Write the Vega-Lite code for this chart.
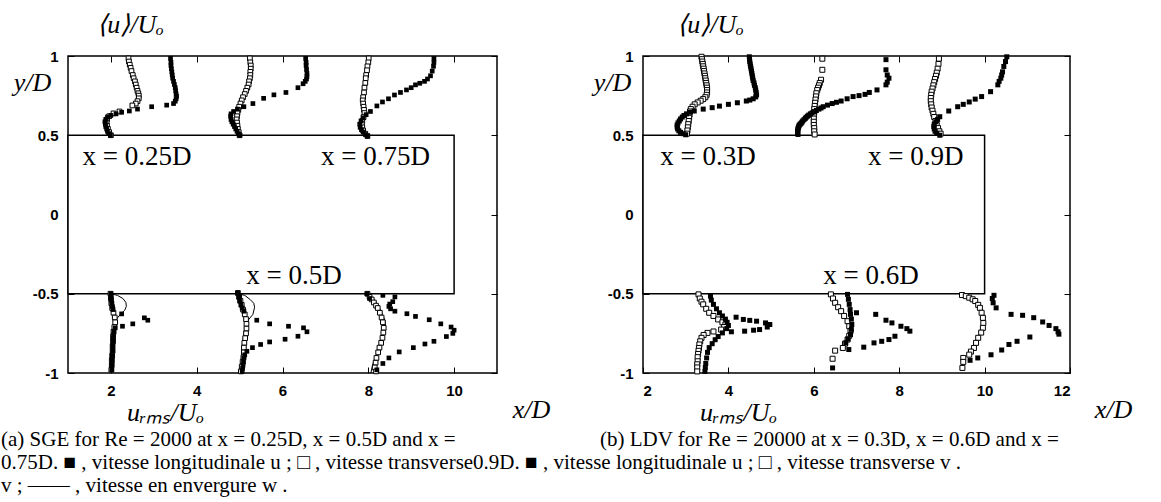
{
"$schema": "https://vega.github.io/schema/vega-lite/v6.json",
"background": "white",
"padding": {"left": 0, "top": 10, "right": 0, "bottom": 0},
"bounds": "flush",
"spacing": 146,
"config": {
  "view": {"stroke": "black", "strokeWidth": 1.5},
  "axis": {"domain": false, "grid": false, "tickColor": "black", "tickWidth": 1, "tickSize": -6, "labelPadding": 16, "labelFont": "Liberation Sans", "labelFontWeight": "bold", "labelFontSize": 15, "labelColor": "black", "titleFont": "Liberation Serif", "titleFontStyle": "italic", "titleFontWeight": "normal", "titleFontSize": 26, "titleColor": "black", "titleAngle": 0, "titleAlign": "center", "titleBaseline": "middle"},
  "text": {"font": "Liberation Serif", "fontSize": 27, "color": "black"}
},
"datasets": {
"body": [{"p": "a", "x": 1, "x2": 10, "y": -0.5, "y2": 0.5}, {"p": "b", "x": 2, "x2": 10, "y": -0.5, "y2": 0.5}],
"labels": [
 {"p": "a", "t": "x = 0.25D", "x": 2.61, "y": 0.315},
 {"p": "a", "t": "x = 0.75D", "x": 8.17, "y": 0.315},
 {"p": "a", "t": "x = 0.5D", "x": 6.27, "y": -0.44},
 {"p": "b", "t": "x = 0.3D", "x": 3.52, "y": 0.315},
 {"p": "b", "t": "x = 0.9D", "x": 8.39, "y": 0.315},
 {"p": "b", "t": "x = 0.6D", "x": 7.34, "y": -0.44}
],
"pts": [
{"p":"a","s":"u","k":1,"x":3.39,"y":0.985},{"p":"a","s":"u","k":1,"x":3.40,"y":0.96},{"p":"a","s":"u","k":1,"x":3.40,"y":0.94},{"p":"a","s":"u","k":1,"x":3.41,"y":0.92},{"p":"a","s":"u","k":1,"x":3.42,"y":0.90},{"p":"a","s":"u","k":1,"x":3.43,"y":0.88},{"p":"a","s":"u","k":1,"x":3.44,"y":0.86},{"p":"a","s":"u","k":1,"x":3.46,"y":0.84},{"p":"a","s":"u","k":1,"x":3.48,"y":0.82},{"p":"a","s":"u","k":1,"x":3.50,"y":0.80},{"p":"a","s":"u","k":1,"x":3.51,"y":0.78},{"p":"a","s":"u","k":1,"x":3.52,"y":0.76},{"p":"a","s":"u","k":1,"x":3.53,"y":0.745},{"p":"a","s":"u","k":1,"x":3.52,"y":0.73},{"p":"a","s":"u","k":1,"x":3.50,"y":0.715},{"p":"a","s":"u","k":1,"x":3.46,"y":0.70},{"p":"a","s":"u","k":1,"x":3.30,"y":0.69},{"p":"a","s":"u","k":1,"x":2.95,"y":0.68},{"p":"a","s":"u","k":1,"x":2.62,"y":0.665},{"p":"a","s":"u","k":1,"x":2.43,"y":0.653},{"p":"a","s":"u","k":1,"x":2.25,"y":0.645},{"p":"a","s":"u","k":1,"x":2.12,"y":0.635},{"p":"a","s":"u","k":1,"x":2.0,"y":0.625},{"p":"a","s":"u","k":1,"x":1.92,"y":0.615},{"p":"a","s":"u","k":1,"x":1.88,"y":0.60},{"p":"a","s":"u","k":1,"x":1.86,"y":0.585},{"p":"a","s":"u","k":1,"x":1.87,"y":0.57},{"p":"a","s":"u","k":1,"x":1.88,"y":0.555},{"p":"a","s":"u","k":1,"x":1.90,"y":0.54},{"p":"a","s":"u","k":1,"x":1.92,"y":0.525},{"p":"a","s":"u","k":1,"x":1.95,"y":0.51},{"p":"a","s":"u","k":1,"x":1.99,"y":0.50},
{"p":"a","s":"u","k":2,"x":6.54,"y":0.985},{"p":"a","s":"u","k":2,"x":6.55,"y":0.96},{"p":"a","s":"u","k":2,"x":6.55,"y":0.94},{"p":"a","s":"u","k":2,"x":6.56,"y":0.915},{"p":"a","s":"u","k":2,"x":6.57,"y":0.89},{"p":"a","s":"u","k":2,"x":6.57,"y":0.87},{"p":"a","s":"u","k":2,"x":6.56,"y":0.855},{"p":"a","s":"u","k":2,"x":6.53,"y":0.84},{"p":"a","s":"u","k":2,"x":6.48,"y":0.825},{"p":"a","s":"u","k":2,"x":6.36,"y":0.80},{"p":"a","s":"u","k":2,"x":6.08,"y":0.77},{"p":"a","s":"u","k":2,"x":5.80,"y":0.755},{"p":"a","s":"u","k":2,"x":5.56,"y":0.733},{"p":"a","s":"u","k":2,"x":5.31,"y":0.70},{"p":"a","s":"u","k":2,"x":5.10,"y":0.68},{"p":"a","s":"u","k":2,"x":4.95,"y":0.665},{"p":"a","s":"u","k":2,"x":4.86,"y":0.65},{"p":"a","s":"u","k":2,"x":4.80,"y":0.635},{"p":"a","s":"u","k":2,"x":4.79,"y":0.62},{"p":"a","s":"u","k":2,"x":4.80,"y":0.60},{"p":"a","s":"u","k":2,"x":4.82,"y":0.585},{"p":"a","s":"u","k":2,"x":4.85,"y":0.57},{"p":"a","s":"u","k":2,"x":4.88,"y":0.555},{"p":"a","s":"u","k":2,"x":4.91,"y":0.54},{"p":"a","s":"u","k":2,"x":4.94,"y":0.525},{"p":"a","s":"u","k":2,"x":4.97,"y":0.51},{"p":"a","s":"u","k":2,"x":5.0,"y":0.50},
{"p":"a","s":"u","k":3,"x":9.53,"y":0.985},{"p":"a","s":"u","k":3,"x":9.53,"y":0.96},{"p":"a","s":"u","k":3,"x":9.52,"y":0.935},{"p":"a","s":"u","k":3,"x":9.49,"y":0.905},{"p":"a","s":"u","k":3,"x":9.45,"y":0.875},{"p":"a","s":"u","k":3,"x":9.38,"y":0.855},{"p":"a","s":"u","k":3,"x":9.31,"y":0.84},{"p":"a","s":"u","k":3,"x":9.20,"y":0.828},{"p":"a","s":"u","k":3,"x":9.10,"y":0.818},{"p":"a","s":"u","k":3,"x":9.0,"y":0.80},{"p":"a","s":"u","k":3,"x":8.89,"y":0.786},{"p":"a","s":"u","k":3,"x":8.75,"y":0.77},{"p":"a","s":"u","k":3,"x":8.61,"y":0.754},{"p":"a","s":"u","k":3,"x":8.47,"y":0.73},{"p":"a","s":"u","k":3,"x":8.33,"y":0.71},{"p":"a","s":"u","k":3,"x":8.20,"y":0.685},{"p":"a","s":"u","k":3,"x":8.05,"y":0.65},{"p":"a","s":"u","k":3,"x":7.95,"y":0.63},{"p":"a","s":"u","k":3,"x":7.88,"y":0.61},{"p":"a","s":"u","k":3,"x":7.83,"y":0.59},{"p":"a","s":"u","k":3,"x":7.80,"y":0.57},{"p":"a","s":"u","k":3,"x":7.81,"y":0.55},{"p":"a","s":"u","k":3,"x":7.84,"y":0.535},{"p":"a","s":"u","k":3,"x":7.88,"y":0.52},{"p":"a","s":"u","k":3,"x":7.93,"y":0.505},{"p":"a","s":"u","k":3,"x":7.98,"y":0.495},
{"p":"a","s":"u","k":4,"x":2.0,"y":-0.50},{"p":"a","s":"u","k":4,"x":2.0,"y":-0.52},{"p":"a","s":"u","k":4,"x":2.01,"y":-0.54},{"p":"a","s":"u","k":4,"x":2.02,"y":-0.56},{"p":"a","s":"u","k":4,"x":2.03,"y":-0.58},{"p":"a","s":"u","k":4,"x":2.05,"y":-0.60},{"p":"a","s":"u","k":4,"x":2.25,"y":-0.627},{"p":"a","s":"u","k":4,"x":2.78,"y":-0.652},{"p":"a","s":"u","k":4,"x":2.86,"y":-0.667},{"p":"a","s":"u","k":4,"x":2.51,"y":-0.69},{"p":"a","s":"u","k":4,"x":2.27,"y":-0.705},{"p":"a","s":"u","k":4,"x":2.10,"y":-0.715},{"p":"a","s":"u","k":4,"x":2.07,"y":-0.74},{"p":"a","s":"u","k":4,"x":2.06,"y":-0.76},{"p":"a","s":"u","k":4,"x":2.05,"y":-0.78},{"p":"a","s":"u","k":4,"x":2.05,"y":-0.80},{"p":"a","s":"u","k":4,"x":2.04,"y":-0.83},{"p":"a","s":"u","k":4,"x":2.04,"y":-0.86},{"p":"a","s":"u","k":4,"x":2.03,"y":-0.89},{"p":"a","s":"u","k":4,"x":2.03,"y":-0.92},{"p":"a","s":"u","k":4,"x":2.02,"y":-0.95},{"p":"a","s":"u","k":4,"x":2.02,"y":-0.98},
{"p":"a","s":"u","k":5,"x":4.96,"y":-0.495},{"p":"a","s":"u","k":5,"x":4.98,"y":-0.52},{"p":"a","s":"u","k":5,"x":5.0,"y":-0.545},{"p":"a","s":"u","k":5,"x":5.03,"y":-0.57},{"p":"a","s":"u","k":5,"x":5.06,"y":-0.59},{"p":"a","s":"u","k":5,"x":5.10,"y":-0.61},{"p":"a","s":"u","k":5,"x":5.40,"y":-0.667},{"p":"a","s":"u","k":5,"x":5.70,"y":-0.69},{"p":"a","s":"u","k":5,"x":6.14,"y":-0.705},{"p":"a","s":"u","k":5,"x":6.49,"y":-0.715},{"p":"a","s":"u","k":5,"x":6.57,"y":-0.74},{"p":"a","s":"u","k":5,"x":6.36,"y":-0.768},{"p":"a","s":"u","k":5,"x":6.06,"y":-0.787},{"p":"a","s":"u","k":5,"x":5.70,"y":-0.804},{"p":"a","s":"u","k":5,"x":5.49,"y":-0.82},{"p":"a","s":"u","k":5,"x":5.30,"y":-0.84},{"p":"a","s":"u","k":5,"x":5.17,"y":-0.863},{"p":"a","s":"u","k":5,"x":5.12,"y":-0.885},{"p":"a","s":"u","k":5,"x":5.10,"y":-0.905},{"p":"a","s":"u","k":5,"x":5.09,"y":-0.93},{"p":"a","s":"u","k":5,"x":5.08,"y":-0.95},{"p":"a","s":"u","k":5,"x":5.07,"y":-0.97},{"p":"a","s":"u","k":5,"x":5.06,"y":-0.99},
{"p":"a","s":"u","k":6,"x":7.97,"y":-0.50},{"p":"a","s":"u","k":6,"x":8.03,"y":-0.53},{"p":"a","s":"u","k":6,"x":8.34,"y":-0.51},{"p":"a","s":"u","k":6,"x":8.62,"y":-0.52},{"p":"a","s":"u","k":6,"x":8.57,"y":-0.55},{"p":"a","s":"u","k":6,"x":8.50,"y":-0.565},{"p":"a","s":"u","k":6,"x":8.48,"y":-0.58},{"p":"a","s":"u","k":6,"x":8.52,"y":-0.595},{"p":"a","s":"u","k":6,"x":8.62,"y":-0.61},{"p":"a","s":"u","k":6,"x":8.90,"y":-0.626},{"p":"a","s":"u","k":6,"x":9.10,"y":-0.643},{"p":"a","s":"u","k":6,"x":9.42,"y":-0.664},{"p":"a","s":"u","k":6,"x":9.69,"y":-0.69},{"p":"a","s":"u","k":6,"x":9.93,"y":-0.71},{"p":"a","s":"u","k":6,"x":10.0,"y":-0.73},{"p":"a","s":"u","k":6,"x":9.97,"y":-0.75},{"p":"a","s":"u","k":6,"x":9.82,"y":-0.77},{"p":"a","s":"u","k":6,"x":9.53,"y":-0.80},{"p":"a","s":"u","k":6,"x":9.32,"y":-0.817},{"p":"a","s":"u","k":6,"x":9.05,"y":-0.84},{"p":"a","s":"u","k":6,"x":8.72,"y":-0.867},{"p":"a","s":"u","k":6,"x":8.48,"y":-0.905},{"p":"a","s":"u","k":6,"x":8.34,"y":-0.94},{"p":"a","s":"u","k":6,"x":8.20,"y":-0.98},
{"p":"a","s":"v","k":1,"x":2.41,"y":0.985},{"p":"a","s":"v","k":1,"x":2.42,"y":0.965},{"p":"a","s":"v","k":1,"x":2.44,"y":0.945},{"p":"a","s":"v","k":1,"x":2.46,"y":0.925},{"p":"a","s":"v","k":1,"x":2.48,"y":0.905},{"p":"a","s":"v","k":1,"x":2.51,"y":0.88},{"p":"a","s":"v","k":1,"x":2.53,"y":0.86},{"p":"a","s":"v","k":1,"x":2.56,"y":0.84},{"p":"a","s":"v","k":1,"x":2.58,"y":0.82},{"p":"a","s":"v","k":1,"x":2.60,"y":0.80},{"p":"a","s":"v","k":1,"x":2.62,"y":0.78},{"p":"a","s":"v","k":1,"x":2.64,"y":0.765},{"p":"a","s":"v","k":1,"x":2.65,"y":0.75},{"p":"a","s":"v","k":1,"x":2.65,"y":0.733},{"p":"a","s":"v","k":1,"x":2.62,"y":0.715},{"p":"a","s":"v","k":1,"x":2.58,"y":0.70},{"p":"a","s":"v","k":1,"x":2.50,"y":0.688},{"p":"a","s":"v","k":1,"x":2.20,"y":0.65},{"p":"a","s":"v","k":1,"x":2.06,"y":0.638},{"p":"a","s":"v","k":1,"x":1.96,"y":0.62},{"p":"a","s":"v","k":1,"x":1.91,"y":0.60},{"p":"a","s":"v","k":1,"x":1.90,"y":0.58},{"p":"a","s":"v","k":1,"x":1.91,"y":0.56},{"p":"a","s":"v","k":1,"x":1.93,"y":0.54},{"p":"a","s":"v","k":1,"x":1.96,"y":0.52},{"p":"a","s":"v","k":1,"x":2.0,"y":0.50},
{"p":"a","s":"v","k":2,"x":5.24,"y":0.985},{"p":"a","s":"v","k":2,"x":5.25,"y":0.96},{"p":"a","s":"v","k":2,"x":5.26,"y":0.94},{"p":"a","s":"v","k":2,"x":5.26,"y":0.92},{"p":"a","s":"v","k":2,"x":5.25,"y":0.90},{"p":"a","s":"v","k":2,"x":5.25,"y":0.88},{"p":"a","s":"v","k":2,"x":5.24,"y":0.86},{"p":"a","s":"v","k":2,"x":5.22,"y":0.84},{"p":"a","s":"v","k":2,"x":5.21,"y":0.82},{"p":"a","s":"v","k":2,"x":5.18,"y":0.80},{"p":"a","s":"v","k":2,"x":5.15,"y":0.78},{"p":"a","s":"v","k":2,"x":5.12,"y":0.76},{"p":"a","s":"v","k":2,"x":5.08,"y":0.74},{"p":"a","s":"v","k":2,"x":5.05,"y":0.72},{"p":"a","s":"v","k":2,"x":5.02,"y":0.70},{"p":"a","s":"v","k":2,"x":4.99,"y":0.68},{"p":"a","s":"v","k":2,"x":4.97,"y":0.66},{"p":"a","s":"v","k":2,"x":4.95,"y":0.64},{"p":"a","s":"v","k":2,"x":4.94,"y":0.62},{"p":"a","s":"v","k":2,"x":4.93,"y":0.60},{"p":"a","s":"v","k":2,"x":4.94,"y":0.58},{"p":"a","s":"v","k":2,"x":4.95,"y":0.56},{"p":"a","s":"v","k":2,"x":4.96,"y":0.54},{"p":"a","s":"v","k":2,"x":4.98,"y":0.52},{"p":"a","s":"v","k":2,"x":5.0,"y":0.50},
{"p":"a","s":"v","k":3,"x":8.01,"y":0.985},{"p":"a","s":"v","k":3,"x":8.0,"y":0.96},{"p":"a","s":"v","k":3,"x":7.98,"y":0.935},{"p":"a","s":"v","k":3,"x":7.97,"y":0.91},{"p":"a","s":"v","k":3,"x":7.95,"y":0.88},{"p":"a","s":"v","k":3,"x":7.94,"y":0.86},{"p":"a","s":"v","k":3,"x":7.93,"y":0.83},{"p":"a","s":"v","k":3,"x":7.91,"y":0.80},{"p":"a","s":"v","k":3,"x":7.90,"y":0.77},{"p":"a","s":"v","k":3,"x":7.88,"y":0.74},{"p":"a","s":"v","k":3,"x":7.87,"y":0.72},{"p":"a","s":"v","k":3,"x":7.88,"y":0.70},{"p":"a","s":"v","k":3,"x":7.89,"y":0.68},{"p":"a","s":"v","k":3,"x":7.90,"y":0.66},{"p":"a","s":"v","k":3,"x":7.91,"y":0.64},{"p":"a","s":"v","k":3,"x":7.89,"y":0.615},{"p":"a","s":"v","k":3,"x":7.86,"y":0.59},{"p":"a","s":"v","k":3,"x":7.85,"y":0.57},{"p":"a","s":"v","k":3,"x":7.86,"y":0.55},{"p":"a","s":"v","k":3,"x":7.88,"y":0.53},{"p":"a","s":"v","k":3,"x":7.93,"y":0.51},{"p":"a","s":"v","k":3,"x":7.98,"y":0.495},
{"p":"a","s":"v","k":4,"x":1.99,"y":-0.50},{"p":"a","s":"v","k":4,"x":2.0,"y":-0.53},{"p":"a","s":"v","k":4,"x":2.01,"y":-0.56},{"p":"a","s":"v","k":4,"x":2.03,"y":-0.59},{"p":"a","s":"v","k":4,"x":2.06,"y":-0.62},{"p":"a","s":"v","k":4,"x":2.09,"y":-0.65},{"p":"a","s":"v","k":4,"x":2.10,"y":-0.68},{"p":"a","s":"v","k":4,"x":2.08,"y":-0.71},{"p":"a","s":"v","k":4,"x":2.06,"y":-0.74},{"p":"a","s":"v","k":4,"x":2.05,"y":-0.77},{"p":"a","s":"v","k":4,"x":2.05,"y":-0.80},{"p":"a","s":"v","k":4,"x":2.04,"y":-0.83},{"p":"a","s":"v","k":4,"x":2.04,"y":-0.86},{"p":"a","s":"v","k":4,"x":2.03,"y":-0.89},{"p":"a","s":"v","k":4,"x":2.02,"y":-0.92},{"p":"a","s":"v","k":4,"x":2.02,"y":-0.95},{"p":"a","s":"v","k":4,"x":2.01,"y":-0.98},
{"p":"a","s":"v","k":5,"x":4.96,"y":-0.495},{"p":"a","s":"v","k":5,"x":4.99,"y":-0.52},{"p":"a","s":"v","k":5,"x":5.02,"y":-0.545},{"p":"a","s":"v","k":5,"x":5.05,"y":-0.57},{"p":"a","s":"v","k":5,"x":5.08,"y":-0.60},{"p":"a","s":"v","k":5,"x":5.12,"y":-0.63},{"p":"a","s":"v","k":5,"x":5.15,"y":-0.66},{"p":"a","s":"v","k":5,"x":5.16,"y":-0.69},{"p":"a","s":"v","k":5,"x":5.16,"y":-0.72},{"p":"a","s":"v","k":5,"x":5.15,"y":-0.75},{"p":"a","s":"v","k":5,"x":5.13,"y":-0.78},{"p":"a","s":"v","k":5,"x":5.11,"y":-0.81},{"p":"a","s":"v","k":5,"x":5.10,"y":-0.84},{"p":"a","s":"v","k":5,"x":5.10,"y":-0.87},{"p":"a","s":"v","k":5,"x":5.09,"y":-0.90},{"p":"a","s":"v","k":5,"x":5.07,"y":-0.93},{"p":"a","s":"v","k":5,"x":5.05,"y":-0.96},{"p":"a","s":"v","k":5,"x":5.03,"y":-0.99},
{"p":"a","s":"v","k":6,"x":7.98,"y":-0.50},{"p":"a","s":"v","k":6,"x":8.03,"y":-0.52},{"p":"a","s":"v","k":6,"x":8.08,"y":-0.536},{"p":"a","s":"v","k":6,"x":8.13,"y":-0.555},{"p":"a","s":"v","k":6,"x":8.18,"y":-0.575},{"p":"a","s":"v","k":6,"x":8.22,"y":-0.59},{"p":"a","s":"v","k":6,"x":8.27,"y":-0.62},{"p":"a","s":"v","k":6,"x":8.31,"y":-0.65},{"p":"a","s":"v","k":6,"x":8.34,"y":-0.68},{"p":"a","s":"v","k":6,"x":8.36,"y":-0.715},{"p":"a","s":"v","k":6,"x":8.35,"y":-0.745},{"p":"a","s":"v","k":6,"x":8.33,"y":-0.778},{"p":"a","s":"v","k":6,"x":8.30,"y":-0.81},{"p":"a","s":"v","k":6,"x":8.26,"y":-0.84},{"p":"a","s":"v","k":6,"x":8.23,"y":-0.87},{"p":"a","s":"v","k":6,"x":8.19,"y":-0.905},{"p":"a","s":"v","k":6,"x":8.17,"y":-0.935},{"p":"a","s":"v","k":6,"x":8.15,"y":-0.965},{"p":"a","s":"v","k":6,"x":8.18,"y":-0.99},
{"p":"a","s":"w","k":4,"x":2.0,"y":-0.50},{"p":"a","s":"w","k":4,"x":2.15,"y":-0.51},{"p":"a","s":"w","k":4,"x":2.28,"y":-0.53},{"p":"a","s":"w","k":4,"x":2.35,"y":-0.555},{"p":"a","s":"w","k":4,"x":2.36,"y":-0.58},{"p":"a","s":"w","k":4,"x":2.32,"y":-0.605},{"p":"a","s":"w","k":4,"x":2.22,"y":-0.63},{"p":"a","s":"w","k":4,"x":2.13,"y":-0.66},{"p":"a","s":"w","k":4,"x":2.09,"y":-0.70},{"p":"a","s":"w","k":4,"x":2.07,"y":-0.75},{"p":"a","s":"w","k":4,"x":2.05,"y":-0.82},{"p":"a","s":"w","k":4,"x":2.02,"y":-0.90},{"p":"a","s":"w","k":4,"x":1.99,"y":-0.99},
{"p":"a","s":"w","k":5,"x":4.97,"y":-0.50},{"p":"a","s":"w","k":5,"x":5.12,"y":-0.51},{"p":"a","s":"w","k":5,"x":5.24,"y":-0.535},{"p":"a","s":"w","k":5,"x":5.33,"y":-0.56},{"p":"a","s":"w","k":5,"x":5.35,"y":-0.585},{"p":"a","s":"w","k":5,"x":5.31,"y":-0.63},{"p":"a","s":"w","k":5,"x":5.22,"y":-0.66},{"p":"a","s":"w","k":5,"x":5.14,"y":-0.69},{"p":"a","s":"w","k":5,"x":5.10,"y":-0.75},{"p":"a","s":"w","k":5,"x":5.07,"y":-0.82},{"p":"a","s":"w","k":5,"x":5.04,"y":-0.90},{"p":"a","s":"w","k":5,"x":5.01,"y":-1.0},
{"p":"a","s":"w","k":6,"x":7.98,"y":-0.495},{"p":"a","s":"w","k":6,"x":8.08,"y":-0.52},{"p":"a","s":"w","k":6,"x":8.17,"y":-0.55},{"p":"a","s":"w","k":6,"x":8.26,"y":-0.59},{"p":"a","s":"w","k":6,"x":8.33,"y":-0.63},{"p":"a","s":"w","k":6,"x":8.39,"y":-0.67},{"p":"a","s":"w","k":6,"x":8.40,"y":-0.70},{"p":"a","s":"w","k":6,"x":8.37,"y":-0.75},{"p":"a","s":"w","k":6,"x":8.30,"y":-0.80},{"p":"a","s":"w","k":6,"x":8.24,"y":-0.85},{"p":"a","s":"w","k":6,"x":8.16,"y":-0.90},{"p":"a","s":"w","k":6,"x":8.10,"y":-0.95},{"p":"a","s":"w","k":6,"x":8.06,"y":-1.0},
{"p":"b","s":"u","k":1,"x":4.49,"y":0.995},{"p":"b","s":"u","k":1,"x":4.495,"y":0.98},{"p":"b","s":"u","k":1,"x":4.50,"y":0.965},{"p":"b","s":"u","k":1,"x":4.51,"y":0.95},{"p":"b","s":"u","k":1,"x":4.52,"y":0.935},{"p":"b","s":"u","k":1,"x":4.53,"y":0.92},{"p":"b","s":"u","k":1,"x":4.54,"y":0.905},{"p":"b","s":"u","k":1,"x":4.55,"y":0.89},{"p":"b","s":"u","k":1,"x":4.56,"y":0.875},{"p":"b","s":"u","k":1,"x":4.57,"y":0.86},{"p":"b","s":"u","k":1,"x":4.58,"y":0.845},{"p":"b","s":"u","k":1,"x":4.60,"y":0.83},{"p":"b","s":"u","k":1,"x":4.61,"y":0.815},{"p":"b","s":"u","k":1,"x":4.63,"y":0.80},{"p":"b","s":"u","k":1,"x":4.64,"y":0.785},{"p":"b","s":"u","k":1,"x":4.65,"y":0.77},{"p":"b","s":"u","k":1,"x":4.66,"y":0.755},{"p":"b","s":"u","k":1,"x":4.64,"y":0.742},{"p":"b","s":"u","k":1,"x":4.58,"y":0.73},{"p":"b","s":"u","k":1,"x":4.50,"y":0.722},{"p":"b","s":"u","k":1,"x":4.42,"y":0.716},{"p":"b","s":"u","k":1,"x":4.21,"y":0.705},{"p":"b","s":"u","k":1,"x":4.0,"y":0.695},{"p":"b","s":"u","k":1,"x":3.79,"y":0.684},{"p":"b","s":"u","k":1,"x":3.62,"y":0.674},{"p":"b","s":"u","k":1,"x":3.41,"y":0.665},{"p":"b","s":"u","k":1,"x":3.20,"y":0.653},{"p":"b","s":"u","k":1,"x":3.10,"y":0.645},{"p":"b","s":"u","k":1,"x":3.02,"y":0.635},{"p":"b","s":"u","k":1,"x":2.96,"y":0.625},{"p":"b","s":"u","k":1,"x":2.92,"y":0.615},{"p":"b","s":"u","k":1,"x":2.88,"y":0.603},{"p":"b","s":"u","k":1,"x":2.85,"y":0.59},{"p":"b","s":"u","k":1,"x":2.82,"y":0.578},{"p":"b","s":"u","k":1,"x":2.80,"y":0.565},{"p":"b","s":"u","k":1,"x":2.80,"y":0.552},{"p":"b","s":"u","k":1,"x":2.81,"y":0.54},{"p":"b","s":"u","k":1,"x":2.84,"y":0.528},{"p":"b","s":"u","k":1,"x":2.88,"y":0.518},{"p":"b","s":"u","k":1,"x":2.94,"y":0.51},{"p":"b","s":"u","k":1,"x":3.0,"y":0.503},
{"p":"b","s":"u","k":2,"x":7.69,"y":0.977},{"p":"b","s":"u","k":2,"x":7.69,"y":0.913},{"p":"b","s":"u","k":2,"x":7.72,"y":0.88},{"p":"b","s":"u","k":2,"x":7.76,"y":0.86},{"p":"b","s":"u","k":2,"x":7.72,"y":0.835},{"p":"b","s":"u","k":2,"x":7.69,"y":0.818},{"p":"b","s":"u","k":2,"x":7.48,"y":0.786},{"p":"b","s":"u","k":2,"x":7.30,"y":0.77},{"p":"b","s":"u","k":2,"x":7.20,"y":0.758},{"p":"b","s":"u","k":2,"x":7.06,"y":0.75},{"p":"b","s":"u","k":2,"x":6.92,"y":0.744},{"p":"b","s":"u","k":2,"x":6.78,"y":0.73},{"p":"b","s":"u","k":2,"x":6.64,"y":0.716},{"p":"b","s":"u","k":2,"x":6.53,"y":0.708},{"p":"b","s":"u","k":2,"x":6.43,"y":0.70},{"p":"b","s":"u","k":2,"x":6.32,"y":0.69},{"p":"b","s":"u","k":2,"x":6.22,"y":0.68},{"p":"b","s":"u","k":2,"x":6.17,"y":0.672},{"p":"b","s":"u","k":2,"x":6.12,"y":0.665},{"p":"b","s":"u","k":2,"x":6.06,"y":0.656},{"p":"b","s":"u","k":2,"x":6.01,"y":0.648},{"p":"b","s":"u","k":2,"x":5.96,"y":0.641},{"p":"b","s":"u","k":2,"x":5.92,"y":0.635},{"p":"b","s":"u","k":2,"x":5.88,"y":0.627},{"p":"b","s":"u","k":2,"x":5.85,"y":0.62},{"p":"b","s":"u","k":2,"x":5.82,"y":0.613},{"p":"b","s":"u","k":2,"x":5.80,"y":0.606},{"p":"b","s":"u","k":2,"x":5.77,"y":0.598},{"p":"b","s":"u","k":2,"x":5.74,"y":0.59},{"p":"b","s":"u","k":2,"x":5.72,"y":0.582},{"p":"b","s":"u","k":2,"x":5.70,"y":0.575},{"p":"b","s":"u","k":2,"x":5.68,"y":0.57},{"p":"b","s":"u","k":2,"x":5.66,"y":0.564},{"p":"b","s":"u","k":2,"x":5.65,"y":0.557},{"p":"b","s":"u","k":2,"x":5.64,"y":0.55},{"p":"b","s":"u","k":2,"x":5.63,"y":0.542},{"p":"b","s":"u","k":2,"x":5.63,"y":0.535},{"p":"b","s":"u","k":2,"x":5.62,"y":0.527},{"p":"b","s":"u","k":2,"x":5.62,"y":0.52},{"p":"b","s":"u","k":2,"x":5.62,"y":0.512},{"p":"b","s":"u","k":2,"x":5.63,"y":0.505},
{"p":"b","s":"u","k":3,"x":10.52,"y":0.995},{"p":"b","s":"u","k":3,"x":10.49,"y":0.965},{"p":"b","s":"u","k":3,"x":10.45,"y":0.934},{"p":"b","s":"u","k":3,"x":10.42,"y":0.9},{"p":"b","s":"u","k":3,"x":10.40,"y":0.88},{"p":"b","s":"u","k":3,"x":10.38,"y":0.86},{"p":"b","s":"u","k":3,"x":10.34,"y":0.84},{"p":"b","s":"u","k":3,"x":10.31,"y":0.818},{"p":"b","s":"u","k":3,"x":10.14,"y":0.775},{"p":"b","s":"u","k":3,"x":9.93,"y":0.744},{"p":"b","s":"u","k":3,"x":9.78,"y":0.728},{"p":"b","s":"u","k":3,"x":9.64,"y":0.71},{"p":"b","s":"u","k":3,"x":9.50,"y":0.695},{"p":"b","s":"u","k":3,"x":9.37,"y":0.68},{"p":"b","s":"u","k":3,"x":9.16,"y":0.653},{"p":"b","s":"u","k":3,"x":8.95,"y":0.617},{"p":"b","s":"u","k":3,"x":8.90,"y":0.60},{"p":"b","s":"u","k":3,"x":8.86,"y":0.585},{"p":"b","s":"u","k":3,"x":8.82,"y":0.57},{"p":"b","s":"u","k":3,"x":8.81,"y":0.555},{"p":"b","s":"u","k":3,"x":8.82,"y":0.54},{"p":"b","s":"u","k":3,"x":8.84,"y":0.525},{"p":"b","s":"u","k":3,"x":8.88,"y":0.512},{"p":"b","s":"u","k":3,"x":8.95,"y":0.50},
{"p":"b","s":"u","k":4,"x":3.58,"y":-0.515},{"p":"b","s":"u","k":4,"x":3.60,"y":-0.54},{"p":"b","s":"u","k":4,"x":3.65,"y":-0.567},{"p":"b","s":"u","k":4,"x":3.72,"y":-0.595},{"p":"b","s":"u","k":4,"x":3.79,"y":-0.62},{"p":"b","s":"u","k":4,"x":3.86,"y":-0.64},{"p":"b","s":"u","k":4,"x":3.93,"y":-0.66},{"p":"b","s":"u","k":4,"x":3.97,"y":-0.68},{"p":"b","s":"u","k":4,"x":4.0,"y":-0.70},{"p":"b","s":"u","k":4,"x":3.96,"y":-0.72},{"p":"b","s":"u","k":4,"x":3.86,"y":-0.747},{"p":"b","s":"u","k":4,"x":3.76,"y":-0.77},{"p":"b","s":"u","k":4,"x":3.69,"y":-0.79},{"p":"b","s":"u","k":4,"x":3.62,"y":-0.815},{"p":"b","s":"u","k":4,"x":3.55,"y":-0.84},{"p":"b","s":"u","k":4,"x":3.51,"y":-0.87},{"p":"b","s":"u","k":4,"x":3.49,"y":-0.905},{"p":"b","s":"u","k":4,"x":3.47,"y":-0.94},{"p":"b","s":"u","k":4,"x":3.46,"y":-0.965},{"p":"b","s":"u","k":4,"x":3.45,"y":-0.99},{"p":"b","s":"u","k":4,"x":4.18,"y":-0.648},{"p":"b","s":"u","k":4,"x":4.35,"y":-0.662},{"p":"b","s":"u","k":4,"x":4.50,"y":-0.668},{"p":"b","s":"u","k":4,"x":4.66,"y":-0.673},{"p":"b","s":"u","k":4,"x":4.87,"y":-0.684},{"p":"b","s":"u","k":4,"x":4.97,"y":-0.694},{"p":"b","s":"u","k":4,"x":4.91,"y":-0.71},{"p":"b","s":"u","k":4,"x":4.73,"y":-0.726},{"p":"b","s":"u","k":4,"x":4.59,"y":-0.73},{"p":"b","s":"u","k":4,"x":4.38,"y":-0.736},{"p":"b","s":"u","k":4,"x":4.07,"y":-0.74},
{"p":"b","s":"u","k":5,"x":6.79,"y":-0.504},{"p":"b","s":"u","k":5,"x":6.81,"y":-0.535},{"p":"b","s":"u","k":5,"x":6.83,"y":-0.567},{"p":"b","s":"u","k":5,"x":6.85,"y":-0.60},{"p":"b","s":"u","k":5,"x":6.86,"y":-0.63},{"p":"b","s":"u","k":5,"x":6.88,"y":-0.66},{"p":"b","s":"u","k":5,"x":6.89,"y":-0.694},{"p":"b","s":"u","k":5,"x":6.88,"y":-0.725},{"p":"b","s":"u","k":5,"x":6.86,"y":-0.757},{"p":"b","s":"u","k":5,"x":6.80,"y":-0.785},{"p":"b","s":"u","k":5,"x":6.75,"y":-0.81},{"p":"b","s":"u","k":5,"x":7.0,"y":-0.62},{"p":"b","s":"u","k":5,"x":7.45,"y":-0.63},{"p":"b","s":"u","k":5,"x":7.69,"y":-0.667},{"p":"b","s":"u","k":5,"x":7.83,"y":-0.684},{"p":"b","s":"u","k":5,"x":8.04,"y":-0.705},{"p":"b","s":"u","k":5,"x":8.18,"y":-0.72},{"p":"b","s":"u","k":5,"x":8.25,"y":-0.736},{"p":"b","s":"u","k":5,"x":7.90,"y":-0.768},{"p":"b","s":"u","k":5,"x":7.76,"y":-0.789},{"p":"b","s":"u","k":5,"x":7.59,"y":-0.80},{"p":"b","s":"u","k":5,"x":7.41,"y":-0.81},{"p":"b","s":"u","k":5,"x":7.17,"y":-0.837},{"p":"b","s":"u","k":5,"x":6.82,"y":-0.852},{"p":"b","s":"u","k":5,"x":6.44,"y":-0.968},
{"p":"b","s":"u","k":6,"x":10.22,"y":-0.51},{"p":"b","s":"u","k":6,"x":10.18,"y":-0.53},{"p":"b","s":"u","k":6,"x":10.20,"y":-0.557},{"p":"b","s":"u","k":6,"x":10.27,"y":-0.589},{"p":"b","s":"u","k":6,"x":10.62,"y":-0.63},{"p":"b","s":"u","k":6,"x":10.89,"y":-0.636},{"p":"b","s":"u","k":6,"x":11.15,"y":-0.651},{"p":"b","s":"u","k":6,"x":11.36,"y":-0.678},{"p":"b","s":"u","k":6,"x":11.51,"y":-0.70},{"p":"b","s":"u","k":6,"x":11.67,"y":-0.72},{"p":"b","s":"u","k":6,"x":11.72,"y":-0.74},{"p":"b","s":"u","k":6,"x":11.74,"y":-0.755},{"p":"b","s":"u","k":6,"x":11.06,"y":-0.773},{"p":"b","s":"u","k":6,"x":10.76,"y":-0.80},{"p":"b","s":"u","k":6,"x":10.57,"y":-0.82},{"p":"b","s":"u","k":6,"x":10.40,"y":-0.855},{"p":"b","s":"u","k":6,"x":10.15,"y":-0.885},{"p":"b","s":"u","k":6,"x":9.84,"y":-0.905},{"p":"b","s":"u","k":6,"x":9.66,"y":-0.92},
{"p":"b","s":"v","k":1,"x":3.37,"y":0.995},{"p":"b","s":"v","k":1,"x":3.38,"y":0.98},{"p":"b","s":"v","k":1,"x":3.39,"y":0.965},{"p":"b","s":"v","k":1,"x":3.40,"y":0.95},{"p":"b","s":"v","k":1,"x":3.41,"y":0.935},{"p":"b","s":"v","k":1,"x":3.42,"y":0.92},{"p":"b","s":"v","k":1,"x":3.43,"y":0.905},{"p":"b","s":"v","k":1,"x":3.44,"y":0.89},{"p":"b","s":"v","k":1,"x":3.45,"y":0.875},{"p":"b","s":"v","k":1,"x":3.46,"y":0.86},{"p":"b","s":"v","k":1,"x":3.47,"y":0.845},{"p":"b","s":"v","k":1,"x":3.48,"y":0.83},{"p":"b","s":"v","k":1,"x":3.49,"y":0.815},{"p":"b","s":"v","k":1,"x":3.50,"y":0.80},{"p":"b","s":"v","k":1,"x":3.50,"y":0.785},{"p":"b","s":"v","k":1,"x":3.50,"y":0.77},{"p":"b","s":"v","k":1,"x":3.49,"y":0.755},{"p":"b","s":"v","k":1,"x":3.46,"y":0.74},{"p":"b","s":"v","k":1,"x":3.41,"y":0.728},{"p":"b","s":"v","k":1,"x":3.35,"y":0.718},{"p":"b","s":"v","k":1,"x":3.28,"y":0.707},{"p":"b","s":"v","k":1,"x":3.21,"y":0.695},{"p":"b","s":"v","k":1,"x":3.16,"y":0.68},{"p":"b","s":"v","k":1,"x":3.12,"y":0.665},{"p":"b","s":"v","k":1,"x":3.10,"y":0.65},{"p":"b","s":"v","k":1,"x":3.09,"y":0.63},{"p":"b","s":"v","k":1,"x":3.08,"y":0.61},{"p":"b","s":"v","k":1,"x":3.07,"y":0.59},{"p":"b","s":"v","k":1,"x":3.06,"y":0.57},{"p":"b","s":"v","k":1,"x":3.05,"y":0.55},{"p":"b","s":"v","k":1,"x":3.04,"y":0.53},{"p":"b","s":"v","k":1,"x":3.03,"y":0.51},
{"p":"b","s":"v","k":2,"x":6.20,"y":0.983},{"p":"b","s":"v","k":2,"x":6.20,"y":0.913},{"p":"b","s":"v","k":2,"x":6.17,"y":0.85},{"p":"b","s":"v","k":2,"x":6.14,"y":0.83},{"p":"b","s":"v","k":2,"x":6.12,"y":0.815},{"p":"b","s":"v","k":2,"x":6.10,"y":0.80},{"p":"b","s":"v","k":2,"x":6.08,"y":0.785},{"p":"b","s":"v","k":2,"x":6.06,"y":0.765},{"p":"b","s":"v","k":2,"x":6.05,"y":0.745},{"p":"b","s":"v","k":2,"x":6.04,"y":0.725},{"p":"b","s":"v","k":2,"x":6.03,"y":0.705},{"p":"b","s":"v","k":2,"x":6.02,"y":0.685},{"p":"b","s":"v","k":2,"x":6.01,"y":0.665},{"p":"b","s":"v","k":2,"x":6.01,"y":0.645},{"p":"b","s":"v","k":2,"x":6.00,"y":0.625},{"p":"b","s":"v","k":2,"x":6.00,"y":0.605},{"p":"b","s":"v","k":2,"x":6.00,"y":0.585},{"p":"b","s":"v","k":2,"x":6.00,"y":0.565},{"p":"b","s":"v","k":2,"x":6.01,"y":0.545},{"p":"b","s":"v","k":2,"x":6.01,"y":0.525},{"p":"b","s":"v","k":2,"x":6.02,"y":0.505},
{"p":"b","s":"v","k":3,"x":8.93,"y":0.983},{"p":"b","s":"v","k":3,"x":8.92,"y":0.95},{"p":"b","s":"v","k":3,"x":8.90,"y":0.92},{"p":"b","s":"v","k":3,"x":8.88,"y":0.895},{"p":"b","s":"v","k":3,"x":8.86,"y":0.875},{"p":"b","s":"v","k":3,"x":8.84,"y":0.855},{"p":"b","s":"v","k":3,"x":8.82,"y":0.835},{"p":"b","s":"v","k":3,"x":8.80,"y":0.815},{"p":"b","s":"v","k":3,"x":8.78,"y":0.795},{"p":"b","s":"v","k":3,"x":8.76,"y":0.775},{"p":"b","s":"v","k":3,"x":8.75,"y":0.755},{"p":"b","s":"v","k":3,"x":8.74,"y":0.735},{"p":"b","s":"v","k":3,"x":8.74,"y":0.715},{"p":"b","s":"v","k":3,"x":8.75,"y":0.695},{"p":"b","s":"v","k":3,"x":8.76,"y":0.675},{"p":"b","s":"v","k":3,"x":8.78,"y":0.655},{"p":"b","s":"v","k":3,"x":8.80,"y":0.635},{"p":"b","s":"v","k":3,"x":8.82,"y":0.615},{"p":"b","s":"v","k":3,"x":8.85,"y":0.59},{"p":"b","s":"v","k":3,"x":8.88,"y":0.565},{"p":"b","s":"v","k":3,"x":8.91,"y":0.545},{"p":"b","s":"v","k":3,"x":8.94,"y":0.525},{"p":"b","s":"v","k":3,"x":8.97,"y":0.51},
{"p":"b","s":"v","k":4,"x":3.30,"y":-0.504},{"p":"b","s":"v","k":4,"x":3.33,"y":-0.53},{"p":"b","s":"v","k":4,"x":3.37,"y":-0.55},{"p":"b","s":"v","k":4,"x":3.41,"y":-0.567},{"p":"b","s":"v","k":4,"x":3.48,"y":-0.595},{"p":"b","s":"v","k":4,"x":3.55,"y":-0.62},{"p":"b","s":"v","k":4,"x":3.65,"y":-0.64},{"p":"b","s":"v","k":4,"x":3.76,"y":-0.662},{"p":"b","s":"v","k":4,"x":3.86,"y":-0.68},{"p":"b","s":"v","k":4,"x":3.93,"y":-0.694},{"p":"b","s":"v","k":4,"x":3.90,"y":-0.71},{"p":"b","s":"v","k":4,"x":3.83,"y":-0.726},{"p":"b","s":"v","k":4,"x":3.65,"y":-0.738},{"p":"b","s":"v","k":4,"x":3.51,"y":-0.747},{"p":"b","s":"v","k":4,"x":3.42,"y":-0.76},{"p":"b","s":"v","k":4,"x":3.37,"y":-0.778},{"p":"b","s":"v","k":4,"x":3.34,"y":-0.80},{"p":"b","s":"v","k":4,"x":3.32,"y":-0.82},{"p":"b","s":"v","k":4,"x":3.31,"y":-0.842},{"p":"b","s":"v","k":4,"x":3.30,"y":-0.86},{"p":"b","s":"v","k":4,"x":3.29,"y":-0.88},{"p":"b","s":"v","k":4,"x":3.28,"y":-0.90},{"p":"b","s":"v","k":4,"x":3.28,"y":-0.926},{"p":"b","s":"v","k":4,"x":3.27,"y":-0.945},{"p":"b","s":"v","k":4,"x":3.27,"y":-0.965},{"p":"b","s":"v","k":4,"x":3.27,"y":-0.99},
{"p":"b","s":"v","k":5,"x":6.40,"y":-0.504},{"p":"b","s":"v","k":5,"x":6.45,"y":-0.53},{"p":"b","s":"v","k":5,"x":6.50,"y":-0.557},{"p":"b","s":"v","k":5,"x":6.57,"y":-0.585},{"p":"b","s":"v","k":5,"x":6.64,"y":-0.61},{"p":"b","s":"v","k":5,"x":6.71,"y":-0.64},{"p":"b","s":"v","k":5,"x":6.79,"y":-0.673},{"p":"b","s":"v","k":5,"x":6.83,"y":-0.705},{"p":"b","s":"v","k":5,"x":6.86,"y":-0.736},{"p":"b","s":"v","k":5,"x":6.83,"y":-0.765},{"p":"b","s":"v","k":5,"x":6.79,"y":-0.789},{"p":"b","s":"v","k":5,"x":6.73,"y":-0.815},{"p":"b","s":"v","k":5,"x":6.68,"y":-0.842},{"p":"b","s":"v","k":5,"x":6.50,"y":-0.859},{"p":"b","s":"v","k":5,"x":6.44,"y":-0.91},
{"p":"b","s":"v","k":6,"x":9.47,"y":-0.508},{"p":"b","s":"v","k":6,"x":9.56,"y":-0.515},{"p":"b","s":"v","k":6,"x":9.64,"y":-0.525},{"p":"b","s":"v","k":6,"x":9.72,"y":-0.535},{"p":"b","s":"v","k":6,"x":9.78,"y":-0.546},{"p":"b","s":"v","k":6,"x":9.85,"y":-0.57},{"p":"b","s":"v","k":6,"x":9.89,"y":-0.589},{"p":"b","s":"v","k":6,"x":9.93,"y":-0.62},{"p":"b","s":"v","k":6,"x":9.96,"y":-0.652},{"p":"b","s":"v","k":6,"x":9.97,"y":-0.685},{"p":"b","s":"v","k":6,"x":9.96,"y":-0.715},{"p":"b","s":"v","k":6,"x":9.92,"y":-0.745},{"p":"b","s":"v","k":6,"x":9.85,"y":-0.778},{"p":"b","s":"v","k":6,"x":9.80,"y":-0.81},{"p":"b","s":"v","k":6,"x":9.75,"y":-0.842},{"p":"b","s":"v","k":6,"x":9.68,"y":-0.865},{"p":"b","s":"v","k":6,"x":9.64,"y":-0.884},{"p":"b","s":"v","k":6,"x":9.50,"y":-0.905},{"p":"b","s":"v","k":6,"x":9.50,"y":-0.93},{"p":"b","s":"v","k":6,"x":9.48,"y":-0.968}
]
},
"hconcat": [
{
 "width": 429, "height": 317,
 "title": {"text": ["(a) SGE for Re = 2000 at x = 0.25D, x = 0.5D and x =", "0.75D. ■ , vitesse longitudinale u ; □ , vitesse transverse0.9D. ■ , vitesse longitudinale u ; □ , vitesse transverse v .", "v ; —— , vitesse en envergure w ."], "orient": "bottom", "anchor": "start", "frame": "group", "dx": -67, "offset": 4, "font": "Liberation Serif", "fontSize": 21, "fontWeight": "normal", "lineHeight": 23, "color": "black"},
 "layer": [
  {"data": {"name": "body"}, "transform": [{"filter": "datum.p == 'a'"}],
   "mark": {"type": "rect", "fill": "white", "stroke": "black", "strokeWidth": 1.5},
   "encoding": {
    "x": {"field": "x", "type": "quantitative", "scale": {"domain": [1, 11], "nice": false, "zero": false}, "axis": {"orient": "bottom", "values": [2, 4, 6, 8, 10], "labelExpr": "'' + datum.value", "title": "x/D", "titleX": 463, "titleY": 36}},
    "x2": {"field": "x2"},
    "y": {"field": "y", "type": "quantitative", "scale": {"domain": [-1, 1], "nice": false, "zero": false}, "axis": {"orient": "left", "values": [-1, -0.5, 0, 0.5, 1], "labelExpr": "'' + datum.value", "title": "y/D", "titleX": -36, "titleY": 26}},
    "y2": {"field": "y2"}
   }},
  {"data": {"name": "labels"}, "transform": [{"filter": "datum.p == 'a'"}],
   "mark": {"type": "text", "align": "center", "baseline": "alphabetic"},
   "encoding": {
    "x": {"field": "x", "type": "quantitative", "scale": {"domain": [1, 11], "nice": false, "zero": false}, "axis": null},
    "y": {"field": "y", "type": "quantitative", "scale": {"domain": [-1, 1], "nice": false, "zero": false}, "axis": null},
    "text": {"field": "t"}
   }},
  {"data": {"name": "pts"}, "transform": [{"filter": "datum.p == 'a' && datum.s == 'w'"}],
   "mark": {"type": "line", "color": "black", "strokeWidth": 1},
   "encoding": {
    "x": {"field": "x", "type": "quantitative", "scale": {"domain": [1, 11], "nice": false, "zero": false}, "axis": null},
    "y": {"field": "y", "type": "quantitative", "scale": {"domain": [-1, 1], "nice": false, "zero": false}, "axis": null},
    "detail": {"field": "k"},
    "order": {"field": "y", "sort": "descending"}
   }},
  {"data": {"name": "pts"}, "transform": [{"filter": "datum.p == 'a' && datum.s == 'v'"}],
   "mark": {"type": "point", "shape": "square", "size": 22, "filled": true, "fill": "white", "stroke": "black", "strokeWidth": 1, "opacity": 1},
   "encoding": {
    "x": {"field": "x", "type": "quantitative", "scale": {"domain": [1, 11], "nice": false, "zero": false}, "axis": null},
    "y": {"field": "y", "type": "quantitative", "scale": {"domain": [-1, 1], "nice": false, "zero": false}, "axis": null}
   }},
  {"data": {"name": "pts"}, "transform": [{"filter": "datum.p == 'a' && datum.s == 'u'"}],
   "mark": {"type": "point", "shape": "square", "size": 22, "filled": true, "color": "black", "opacity": 1},
   "encoding": {
    "x": {"field": "x", "type": "quantitative", "scale": {"domain": [1, 11], "nice": false, "zero": false}, "axis": {"orient": "top", "values": [2, 4, 6, 8, 10], "labels": false, "title": "⟨u⟩/Uₒ", "titleX": 62, "titleY": -32}},
    "y": {"field": "y", "type": "quantitative", "scale": {"domain": [-1, 1], "nice": false, "zero": false}, "axis": {"orient": "right", "values": [-1, -0.5, 0, 0.5, 1], "labels": false, "title": "uᵣₘₛ/Uₒ", "titleX": -332, "titleY": 356}}
   }}
 ],
 "resolve": {"axis": {"x": "independent", "y": "independent"}}
},
{
 "width": 427, "height": 317,
 "title": {"text": ["(b) LDV for Re = 20000 at x = 0.3D, x = 0.6D and x ="], "orient": "bottom", "anchor": "start", "frame": "group", "dx": -43, "offset": 4, "font": "Liberation Serif", "fontSize": 21, "fontWeight": "normal", "lineHeight": 23, "color": "black"},
 "layer": [
  {"data": {"name": "body"}, "transform": [{"filter": "datum.p == 'b'"}],
   "mark": {"type": "rect", "fill": "white", "stroke": "black", "strokeWidth": 1.5},
   "encoding": {
    "x": {"field": "x", "type": "quantitative", "scale": {"domain": [2, 12], "nice": false, "zero": false}, "axis": {"orient": "bottom", "values": [2, 4, 6, 8, 10, 12], "labelExpr": "'' + datum.value", "title": "x/D", "titleX": 470, "titleY": 36}},
    "x2": {"field": "x2"},
    "y": {"field": "y", "type": "quantitative", "scale": {"domain": [-1, 1], "nice": false, "zero": false}, "axis": {"orient": "left", "values": [-1, -0.5, 0, 0.5, 1], "labelExpr": "'' + datum.value", "title": "y/D", "titleX": -31, "titleY": 26}},
    "y2": {"field": "y2"}
   }},
  {"data": {"name": "labels"}, "transform": [{"filter": "datum.p == 'b'"}],
   "mark": {"type": "text", "align": "center", "baseline": "alphabetic"},
   "encoding": {
    "x": {"field": "x", "type": "quantitative", "scale": {"domain": [2, 12], "nice": false, "zero": false}, "axis": null},
    "y": {"field": "y", "type": "quantitative", "scale": {"domain": [-1, 1], "nice": false, "zero": false}, "axis": null},
    "text": {"field": "t"}
   }},
  {"data": {"name": "pts"}, "transform": [{"filter": "datum.p == 'b' && datum.s == 'v'"}],
   "mark": {"type": "point", "shape": "square", "size": 25, "filled": true, "fill": "white", "stroke": "black", "strokeWidth": 1, "opacity": 1},
   "encoding": {
    "x": {"field": "x", "type": "quantitative", "scale": {"domain": [2, 12], "nice": false, "zero": false}, "axis": null},
    "y": {"field": "y", "type": "quantitative", "scale": {"domain": [-1, 1], "nice": false, "zero": false}, "axis": null}
   }},
  {"data": {"name": "pts"}, "transform": [{"filter": "datum.p == 'b' && datum.s == 'u'"}],
   "mark": {"type": "point", "shape": "square", "size": 25, "filled": true, "color": "black", "opacity": 1},
   "encoding": {
    "x": {"field": "x", "type": "quantitative", "scale": {"domain": [2, 12], "nice": false, "zero": false}, "axis": {"orient": "top", "values": [4, 6, 8, 10], "labels": false, "title": "⟨u⟩/Uₒ", "titleX": 67, "titleY": -32}},
    "y": {"field": "y", "type": "quantitative", "scale": {"domain": [-1, 1], "nice": false, "zero": false}, "axis": {"orient": "right", "values": [-1, -0.5, 0, 0.5, 1], "labels": false, "title": "uᵣₘₛ/Uₒ", "titleX": -332, "titleY": 356}}
   }}
 ],
 "resolve": {"axis": {"x": "independent", "y": "independent"}}
}
]
}
